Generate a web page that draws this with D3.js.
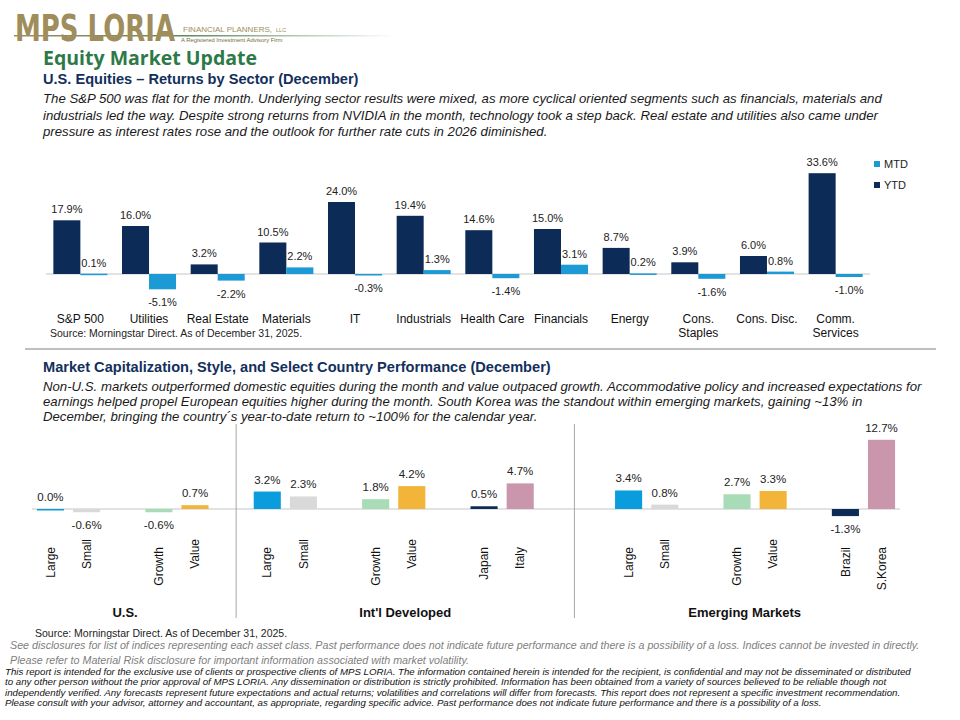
<!DOCTYPE html>
<html>
<head>
<meta charset="utf-8">
<title>Equity Market Update</title>
<script src="https://d3js.org/d3.v7.min.js"></script>
<style>
  body { margin: 0; background: #fff; }
  svg text { font-family: "Liberation Sans", Arial, sans-serif; }
</style>
</head>
<body>
<script>
// ---- sector chart data (%)
const sectors = ["S&P 500", "Utilities", "Real Estate", "Materials", "IT", "Industrials",
  "Health Care", "Financials", "Energy", "Cons.\nStaples", "Cons. Disc.", "Comm.\nServices"];
const ytd = [17.9, 16.0, 3.2, 10.5, 24.0, 19.4, 14.6, 15.0, 8.7, 3.9, 6.0, 33.6];
const mtd = [0.1, -5.1, -2.2, 2.2, -0.3, 1.3, -1.4, 3.1, 0.2, -1.6, 0.8, -1.0];

// ---- cap / style / country data (% December)
const groupNames = ["U.S.", "Int'l Developed", "Emerging Markets"];
const styleLabels = ["Large", "Small", "Growth", "Value",
  "Large", "Small", "Growth", "Value", "Japan", "Italy",
  "Large", "Small", "Growth", "Value", "Brazil", "S.Korea"];
const styleGroup = [0, 0, 0, 0, 1, 1, 1, 1, 1, 1, 2, 2, 2, 2, 2, 2];
const styleValues = [0.0, -0.6, -0.6, 0.7, 3.2, 2.3, 1.8, 4.2, 0.5, 4.7, 3.4, 0.8, 2.7, 3.3, -1.3, 12.7];

const navy = "#0c2b56", sky = "#1b9ad6";
const styleColor = {
  "Large": "#0a9ddd", "Small": "#d9d9d9", "Growth": "#a8dcb6", "Value": "#f2b53a",
  "Japan": navy, "Brazil": navy, "Italy": "#c996ac", "S.Korea": "#c996ac"
};

const W = 960, H = 720;
const svg = d3.select("body").append("svg").attr("width", W).attr("height", H);

// ---------- header
const defs = svg.append("defs");
const grad = defs.append("linearGradient").attr("id", "rule");
grad.append("stop").attr("offset", "0%").attr("stop-color", "#a08d5c");
grad.append("stop").attr("offset", "45%").attr("stop-color", "#5d8a5c");
grad.append("stop").attr("offset", "100%").attr("stop-color", "#ffffff");

svg.append("rect").attr("x", 14).attr("y", 35).attr("width", 382).attr("height", 1.5).attr("fill", "url(#rule)");
svg.append("text").attr("transform", "translate(15,41) scale(1,1.4)")
  .attr("font-size", 26).attr("font-weight", "bold").attr("fill", "#a08d5c")
  .attr("textLength", 160).attr("lengthAdjust", "spacingAndGlyphs")
  .style("font-family", "'DejaVu Sans', sans-serif")
  .text("MPS LORIA");
svg.append("text").attr("x", 183).attr("y", 32).attr("font-size", 8).attr("fill", "#a08d5c")
  .text("FINANCIAL PLANNERS,").append("tspan").attr("font-size", 5.5).attr("dx", 4).text("LLC");
svg.append("text").attr("x", 181).attr("y", 42.2).attr("font-size", 5.9).attr("fill", "#7a6a40")
  .text("A Registered Investment Advisory Firm");

svg.append("text").attr("x", 43).attr("y", 65).attr("font-size", 19.5).attr("font-weight", "bold")
  .attr("fill", "#2d7a48").style("font-family", "'Open Sans', Lato, sans-serif")
  .text("Equity Market Update");

function heading(y, s) {
  svg.append("text").attr("x", 43).attr("y", y).attr("font-size", 14.6).attr("font-weight", "bold")
    .attr("fill", "#13305c").text(s);
}
function para(y0, step, lines) {
  lines.forEach((s, i) => svg.append("text").attr("x", 43).attr("y", y0 + i * step)
    .attr("font-size", 13.2).attr("font-style", "italic").attr("fill", "#1a1a1a").text(s));
}

heading(84, "U.S. Equities \u2013 Returns by Sector (December)");
para(103, 16.5, [
  "The S&P 500 was flat for the month. Underlying sector results were mixed, as more cyclical oriented segments such as financials, materials and",
  "industrials led the way. Despite strong returns from NVIDIA in the month, technology took a step back. Real estate and utilities also came under",
  "pressure as interest rates rose and the outlook for further rate cuts in 2026 diminished."
]);

// ---------- sector chart
const base1 = 274;
const x0 = d3.scaleBand().domain(sectors).range([46, 870]).paddingInner(0.213).paddingOuter(0.107);
const x1 = d3.scaleBand().domain(["ytd", "mtd"]).range([0, x0.bandwidth()]);
const y1 = d3.scaleLinear().domain([-8, 36]).range([base1 + 24, base1 - 108]);

const rows = sectors.map((s, i) => ({ s, ytd: ytd[i], mtd: mtd[i] }));
const g1 = svg.append("g");
g1.append("line").attr("x1", 46).attr("x2", 870).attr("y1", y1(0)).attr("y2", y1(0))
  .attr("stroke", "#d9d9d9").attr("stroke-width", 1.5);

const cells = g1.selectAll("g.cell").data(rows).join("g").attr("class", "cell")
  .attr("transform", d => `translate(${x0(d.s)},0)`);
["ytd", "mtd"].forEach(k => {
  cells.append("rect")
    .attr("x", x1(k)).attr("width", x1.bandwidth())
    .attr("y", d => y1(Math.max(0, d[k])))
    .attr("height", d => Math.max(1.5, Math.abs(y1(d[k]) - y1(0))))
    .attr("fill", k === "ytd" ? navy : sky);
  cells.append("text")
    .attr("x", x1(k) + x1.bandwidth() / 2)
    .attr("y", d => d[k] >= 0 ? y1(d[k]) - 7 : y1(d[k]) + 17)
    .attr("text-anchor", "middle").attr("font-size", 11).attr("fill", "#222")
    .text(d => d[k].toFixed(1) + "%");
});
cells.append("text").attr("x", x0.bandwidth() / 2).attr("y", 323)
  .attr("text-anchor", "middle").attr("font-size", 12).attr("fill", "#111")
  .selectAll("tspan").data(d => d.s.split("\n")).join("tspan")
  .attr("x", x0.bandwidth() / 2).attr("dy", (d, i) => i ? 14 : 0).text(d => d);

g1.append("text").attr("x", 50).attr("y", 337).attr("font-size", 10.5).attr("fill", "#222")
  .text("Source: Morningstar Direct.  As of December 31, 2025.");

// legend
[["MTD", sky], ["YTD", navy]].forEach(([k, c], i) => {
  g1.append("rect").attr("x", 874).attr("y", 161 + i * 21).attr("width", 6).attr("height", 6).attr("fill", c);
  g1.append("text").attr("x", 884).attr("y", 168 + i * 21).attr("font-size", 11).attr("fill", "#222").text(k);
});

svg.append("line").attr("x1", 25).attr("x2", 936).attr("y1", 349).attr("y2", 349)
  .attr("stroke", "#bfbfbf").attr("stroke-width", 2);

// ---------- cap / style / country chart
heading(372, "Market Capitalization, Style, and Select Country Performance (December)");
para(390.5, 15, [
  "Non-U.S. markets outperformed domestic equities during the month and value outpaced growth. Accommodative policy and increased expectations for",
  "earnings helped propel European equities higher during the month. South Korea was the standout within emerging markets, gaining ~13% in",
  "December, bringing the country\u00b4s year-to-date return to ~100% for the calendar year."
]);

// slots: a gap after every pair, a double gap before the EM block
const slots = [];
styleLabels.forEach((l, i) => {
  if (i > 0 && i % 2 === 0) slots.push("gap" + i);
  if (i === 10) slots.push("gap-em");
  slots.push(i);
});
const base2 = 509;
const xs = d3.scaleBand().domain(slots).range([32.4, 899.6]).paddingInner(0.25).paddingOuter(0.125);
const y2 = d3.scaleLinear().domain([-2, 13]).range([base2 + 10.9, base2 - 70.85]);

const g2 = svg.append("g");
g2.append("line").attr("x1", 32).attr("x2", 900).attr("y1", y2(0)).attr("y2", y2(0))
  .attr("stroke", "#d9d9d9").attr("stroke-width", 1.5);

const items = styleLabels.map((l, i) => ({ i, l, v: styleValues[i], g: styleGroup[i] }));
g2.selectAll("rect.bar").data(items).join("rect").attr("class", "bar")
  .attr("x", d => xs(d.i)).attr("width", xs.bandwidth())
  .attr("y", d => y2(Math.max(0, d.v)))
  .attr("height", d => Math.max(1.5, Math.abs(y2(d.v) - y2(0))))
  .attr("fill", d => styleColor[d.l]);
g2.selectAll("text.val").data(items).join("text").attr("class", "val")
  .attr("x", d => xs(d.i) + xs.bandwidth() / 2)
  .attr("y", d => d.v >= 0 ? y2(d.v) - 8 : y2(d.v) + 17)
  .attr("text-anchor", "middle").attr("font-size", 11.5).attr("fill", "#222")
  .text(d => d.v.toFixed(1) + "%");
g2.selectAll("text.cat").data(items).join("text").attr("class", "cat")
  .attr("transform", d => `translate(${xs(d.i) + xs.bandwidth() / 2},${d.l === "Small" || d.l === "Value" ? 539 : 547}) rotate(-90)`)
  .attr("dy", "0.35em").attr("text-anchor", "end").attr("font-size", 12).attr("fill", "#111")
  .text(d => d.l);

// group dividers and group names
const bounds = groupNames.map((n, g) => {
  const idx = items.filter(d => d.g === g).map(d => d.i);
  return [xs(d3.min(idx)), xs(d3.max(idx)) + xs.bandwidth()];
});
const divs = [0, 1].map(g => (bounds[g][1] + bounds[g + 1][0]) / 2 + (g === 0 ? 5 : 0));
divs.forEach(x => g2.append("line").attr("x1", x).attr("x2", x).attr("y1", 424).attr("y2", 618)
  .attr("stroke", "#a6a6a6").attr("stroke-width", 1));
const edges = [14, ...divs, 915];
groupNames.forEach((n, g) => {
  g2.append("text").attr("x", (edges[g] + edges[g + 1]) / 2).attr("y", 617)
    .attr("text-anchor", "middle").attr("font-size", 13).attr("font-weight", "bold").attr("fill", "#111")
    .text(n);
});

// ---------- footer
svg.append("text").attr("x", 35).attr("y", 637).attr("font-size", 10.5).attr("fill", "#222")
  .text("Source: Morningstar Direct. As of December 31, 2025.");
["See disclosures for list of indices representing each asset class. Past performance does not indicate future performance and there is a possibility of a loss. Indices cannot be invested in directly.",
 "Please refer to Material Risk disclosure for important information associated with market volatility."]
  .forEach((s, i) => svg.append("text").attr("x", 10).attr("y", 649 + i * 14.5).attr("font-size", 10.7)
    .attr("font-style", "italic").attr("fill", "#808080").text(s));
["This report is intended for the exclusive use of clients or prospective clients of MPS LORIA. The information contained herein is intended for the recipient, is confidential and may not be disseminated or distributed",
 "to any other person without the prior approval of MPS LORIA. Any dissemination or distribution is strictly prohibited. Information has been obtained from a variety of sources believed to be reliable though not",
 "independently verified. Any forecasts represent future expectations and actual returns; volatilities and correlations will differ from forecasts. This report does not represent a specific investment recommendation.",
 "Please consult with your advisor, attorney and accountant, as appropriate, regarding specific advice. Past performance does not indicate future performance and there is a possibility of a loss."]
  .forEach((s, i) => svg.append("text").attr("x", 5).attr("y", 675 + i * 10.4).attr("font-size", 9.7)
    .attr("font-style", "italic").attr("fill", "#111").text(s));
</script>
</body>
</html>
